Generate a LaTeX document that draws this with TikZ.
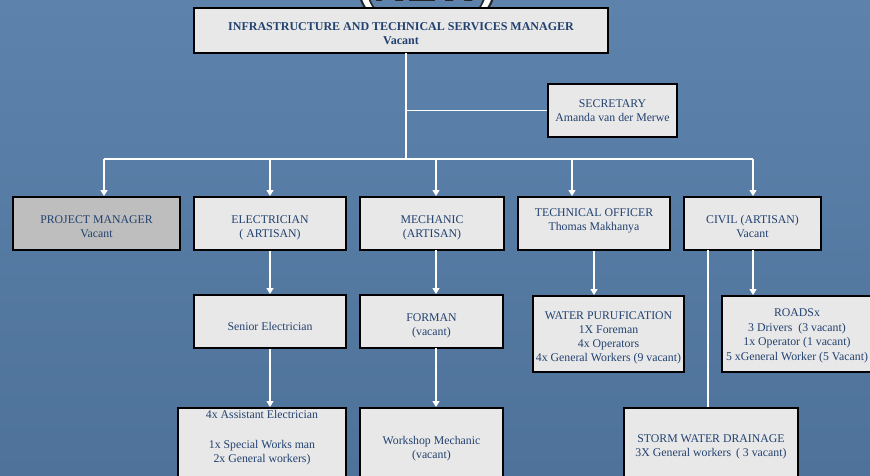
\documentclass[tikz,border=0pt]{standalone}
\usepackage{fontspec}
\setmainfont{Liberation Serif}
\newfontfamily\headfont{Liberation Sans}
\usetikzlibrary{arrows.meta}
\definecolor{bgtop}{HTML}{5D83AD}
\definecolor{bgbot}{HTML}{4E7299}
\definecolor{boxfill}{HTML}{E8E8E8}
\definecolor{pmfill}{HTML}{BEBEBE}
\definecolor{inkblue}{HTML}{22416F}
\begin{document}
\begin{tikzpicture}[x=1pt,y=-1pt,
  % boxes: the text block has depth 0, so its last baseline sits
  % half of `tb' below the box centre
  orgbox/.style={draw=black, line width=2pt, fill=boxfill, text=inkblue,
    align=center, inner sep=0pt, text depth=0pt,
    font=\fontsize{11.8}{14}\selectfont},
  tb/.style={text height=#1},
  link/.style={draw=white, line width=1.2pt},
  feed/.style={link, -{Triangle[width=7pt,length=6pt]}},
  heading/.style={font=\headfont\bfseries\fontsize{46}{46}\selectfont, inner sep=0pt, anchor=base},
]
\useasboundingbox (0,0) rectangle (870,475);
\clip (0,0) rectangle (870,475);
\fill[top color=bgtop, bottom color=bgbot] (0,0) rectangle (870,475);

% page heading, mostly above the top edge
\foreach \dx/\dy [count=\i] in {-2/0,2/0,0/2,-1.5/1.5,1.5/1.5}
  \node[heading, text=black!85] (headshadow\i) at (427+\dx,-1+\dy) {(NEW)};
\node[heading, text=white] (heading) at (427,-1) {(NEW)};

% manager and secretary
\node[orgbox, tb=27.6, minimum width=414, minimum height=45,
  font=\bfseries\fontsize{12}{13.6}\selectfont]
  (mgr) at (401,30.5) {INFRASTRUCTURE AND TECHNICAL SERVICES MANAGER\\Vacant};
\node[orgbox, tb=22.4, minimum width=129, minimum height=53] (sec) at (612.5,110.5)
  {SECRETARY\\Amanda van der Merwe};

% first level
\node[orgbox, tb=28, fill=pmfill, minimum width=167, minimum height=53] (pm) at (96.5,223.5)
  {PROJECT MANAGER\\Vacant};
\node[orgbox, tb=28, minimum width=152, minimum height=53] (elec) at (270,223.5)
  {ELECTRICIAN\\( ARTISAN)};
\node[orgbox, tb=28, minimum width=144, minimum height=53] (mech) at (432,223.5)
  {MECHANIC\\(ARTISAN)};
\node[orgbox, tb=14.4, minimum width=152, minimum height=53] (tech) at (594,223.5)
  {TECHNICAL OFFICER\\Thomas Makhanya};
\node[orgbox, tb=28, minimum width=137, minimum height=53] (civil) at (752.5,223.5)
  {CIVIL (ARTISAN)\\Vacant};

% second level
\node[orgbox, tb=17, minimum width=152, minimum height=53] (senior) at (270,321.5)
  {Senior Electrician};
\node[orgbox, tb=28, minimum width=143, minimum height=53] (forman) at (431.5,321.5)
  {FORMAN\\(vacant)};
\node[orgbox, tb=54, minimum width=151, minimum height=76] (water) at (608.5,334)
  {WATER PURUFICATION\\1X Foreman\\4x Operators\\4x General Workers (9 vacant)};
\node[orgbox, tb=52, minimum width=150, minimum height=76,
  font=\fontsize{11.8}{14.4}\selectfont] (roads) at (797,334)
  {ROADSx\\3 Drivers \ (3 vacant)\\1x Operator (1 vacant)\\5 xGeneral Worker (5 Vacant)};

% third level
\node[orgbox, tb=17.4, minimum width=168, minimum height=92,
  font=\fontsize{11.8}{14.4}\selectfont] (asst) at (262,454)
  {4x Assistant Electrician\\[15.6pt]1x Special Works man\\2x General workers)};
\node[orgbox, tb=21, minimum width=143, minimum height=79] (workshop) at (431.5,447.5)
  {Workshop Mechanic\\(vacant)};
\node[orgbox, tb=23, minimum width=174, minimum height=73, text depth=0pt] (storm) at (711,444.5)
  {STORM WATER DRAINAGE\\3X General workers \,( 3 vacant)};

% trunk and distribution bus
\coordinate (trunk) at (406,53);
\coordinate (tee) at (406,110.5);
\coordinate (hub) at (406,159);
\coordinate (busL) at (104,159);
\coordinate (busR) at (753,159);
\coordinate (toElec) at (270,159);
\coordinate (toMech) at (436,159);
\coordinate (toTech) at (572,159);
\draw[link] (trunk) -- (hub);
\draw[link] (tee) -- (sec.west);
\draw[link] (busL) -- (busR);
\draw[feed] (busL) -- (busL |- pm.north);
\draw[feed] (toElec) -- (toElec |- elec.north);
\draw[feed] (toMech) -- (toMech |- mech.north);
\draw[feed] (toTech) -- (toTech |- tech.north);
\draw[feed] (busR) -- (busR |- civil.north);

% lower links
\coordinate (mechOut) at (436,250);
\coordinate (civilStorm) at (708,250);
\coordinate (civilRoads) at (753,250);
\draw[feed] (elec.south) -- (senior.north);
\draw[feed] (mechOut) -- (mechOut |- forman.north);
\draw[feed] (tech.south) -- (tech.south |- water.north);
\draw[feed] (civilRoads) -- (civilRoads |- roads.north);
\draw[link] (civilStorm) -- (civilStorm |- storm.north);
\draw[feed] (senior.south) -- (senior.south |- asst.north);
\coordinate (formanOut) at (436,348);
\draw[feed] (formanOut) -- (formanOut |- workshop.north);
\end{tikzpicture}
\end{document}
